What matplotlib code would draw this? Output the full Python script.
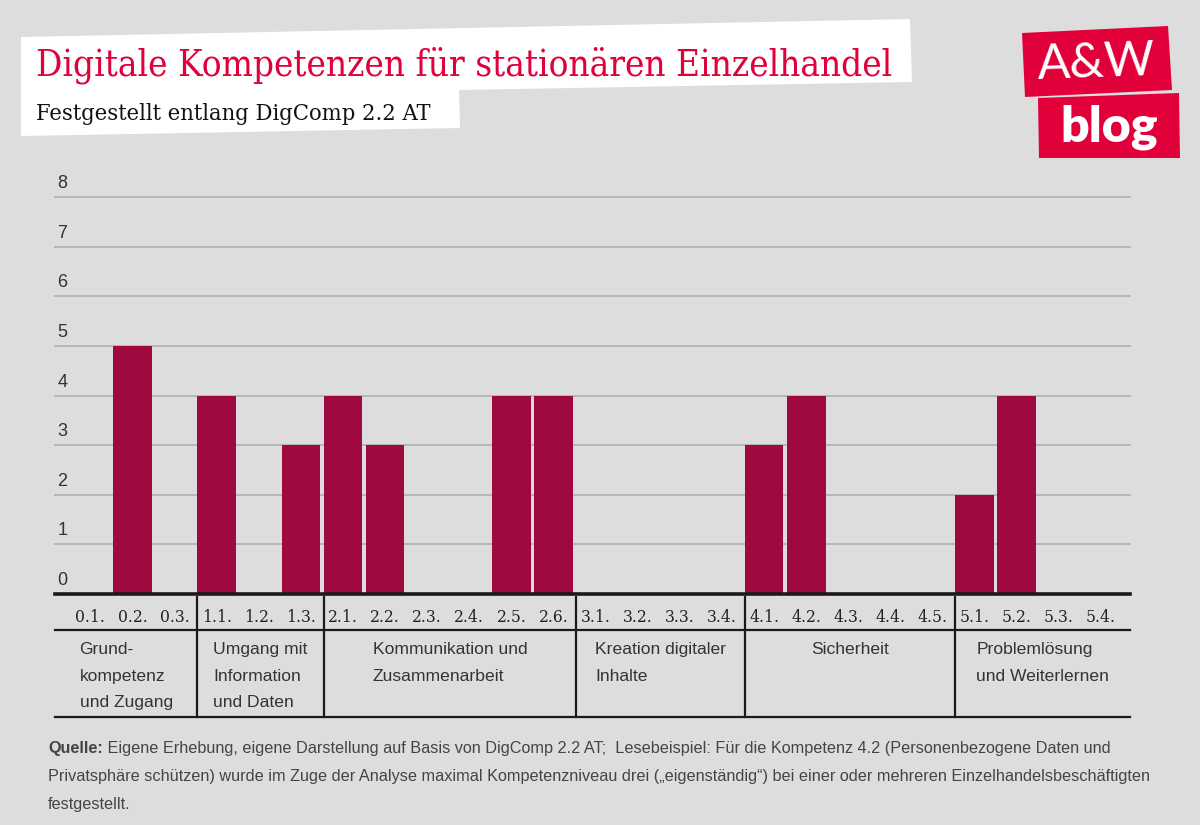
import matplotlib
matplotlib.use('Agg')
import matplotlib.pyplot as plt
from matplotlib import font_manager
from matplotlib.patches import Polygon
from matplotlib.transforms import blended_transform_factory

# data
codes = ['0.1.', '0.2.', '0.3.',
         '1.1.', '1.2.', '1.3.',
         '2.1.', '2.2.', '2.3.', '2.4.', '2.5.', '2.6.',
         '3.1.', '3.2.', '3.3.', '3.4.',
         '4.1.', '4.2.', '4.3.', '4.4.', '4.5.',
         '5.1.', '5.2.', '5.3.', '5.4.']
values = [0, 5, 0,
          4, 0, 3,
          4, 3, 0, 0, 4, 4,
          0, 0, 0, 0,
          3, 4, 0, 0, 0,
          2, 4, 0, 0]
groups = ['Grund-\nkompetenz\nund Zugang',
          'Umgang mit\nInformation\nund Daten',
          'Kommunikation und\nZusammenarbeit',
          'Kreation digitaler\nInhalte',
          'Sicherheit',
          'Problemlösung\nund Weiterlernen']
group_sizes = [3, 3, 6, 4, 5, 4]
yticks = [0, 1, 2, 3, 4, 5, 6, 7, 8]

title = 'Digitale Kompetenzen für stationären Einzelhandel'
subtitle = 'Festgestellt entlang DigComp 2.2 AT'
source_bold = 'Quelle:'
source_lines = [' Eigene Erhebung, eigene Darstellung auf Basis von DigComp 2.2 AT;  Lesebeispiel: Für die Kompetenz 4.2 (Personenbezogene Daten und',
                'Privatsphäre schützen) wurde im Zuge der Analyse maximal Kompetenzniveau drei („eigenständig“) bei einer oder mehreren Einzelhandelsbeschäftigten',
                'festgestellt.']

W, H = 1200, 825
BG = '#dddddd'
RED = '#e2003b'
BAR = '#a00840'

installed = {f.name for f in font_manager.fontManager.ttflist}
SANS = 'Liberation Sans Narrow' if 'Liberation Sans Narrow' in installed else 'Liberation Sans'
SERIF = 'DejaVu Serif'


def fy(y):
    return 1 - y / H


def fit(txt, width_px, renderer):
    w = txt.get_window_extent(renderer).width
    txt.set_fontsize(txt.get_fontsize() * width_px / w)


fig = plt.figure(figsize=(12, 8.25), dpi=100, facecolor=BG)
renderer = fig.canvas.get_renderer()

# header box
box = [(21, 37), (910, 19), (912, 82), (459, 90), (460, 128), (21, 136)]
fig.patches.append(Polygon([(x / W, fy(y)) for x, y in box], closed=True,
                           transform=fig.transFigure, facecolor='white', edgecolor='none'))
t = fig.text(36 / W, fy(76), title, color=RED, family=SERIF, fontstretch='condensed',
             fontsize=28, va='baseline', ha='left')
fit(t, 859, renderer)
st = fig.text(36 / W, fy(120), subtitle, color='#111111', family=SERIF, fontstretch='condensed',
              fontsize=18, va='baseline', ha='left')
fit(st, 394, renderer)

# logo
logo_top = [(1022, 33), (1168, 26), (1172, 90), (1025, 97)]
logo_bot = [(1038, 98), (1179, 93), (1180, 158), (1039, 158)]
for pts in (logo_top, logo_bot):
    fig.patches.append(Polygon([(x / W, fy(y)) for x, y in pts], closed=True,
                               transform=fig.transFigure, facecolor=RED, edgecolor='none'))
fig.text(1096 / W, fy(63), 'A&W', color='white', family='Lato', weight='normal',
         fontsize=35, ha='center', va='center', rotation=2)
fig.text(1109 / W, fy(127), 'blog', color='white', family='Lato', weight='heavy',
         fontsize=36, ha='center', va='center')

# plot area
ax = fig.add_axes([55 / W, fy(594), 1075 / W, 397 / H])
ax.set_facecolor('none')
xs = list(range(len(codes)))
ax.bar(xs, values, width=0.92, color=BAR, zorder=2)
xl, xr = -0.84, 24.69
ax.set_xlim(xl, xr)
ax.set_ylim(0, 8)
for v in yticks[1:]:
    ax.axhline(v, color='#b3b3b3', lw=1.3, zorder=1, clip_on=False)
ax.axhline(0, color='#1a1a1a', lw=2.6, zorder=3, clip_on=False)
for s in ax.spines.values():
    s.set_visible(False)
ax.set_xticks([])
ax.set_yticks([])

ytr = blended_transform_factory(ax.transAxes, ax.transData)
for v in yticks:
    ax.text(0.002, v + 0.27, str(v), transform=ytr, ha='left', va='center',
            family='Liberation Sans', fontsize=13, color='#333333')

# category table below the axis
tr = blended_transform_factory(ax.transData, fig.transFigure)
for i, c in enumerate(codes):
    ax.text(i, fy(618), c, transform=tr, ha='center', va='center',
            family=SERIF, fontstretch='condensed', fontsize=12.5, color='#222222')

for y in (630, 717):
    ax.plot([xl, xr], [fy(y), fy(y)], transform=tr, color='#1a1a1a', lw=1.6, clip_on=False)

starts = [sum(group_sizes[:k]) for k in range(len(group_sizes))]
edges = [xl] + [s - 0.46 for s in starts[1:]] + [xr]
for b in edges[1:-1]:
    ax.plot([b, b], [fy(597), fy(717)], transform=tr, color='#1a1a1a', lw=1.6, clip_on=False)

for k, g in enumerate(groups):
    cx = (edges[k] + edges[k + 1]) / 2
    ax.text(cx, fy(642), g, transform=tr, ha='center', va='top', multialignment='left',
            family=SANS, fontsize=12.6, color='#333333', linespacing=1.97)

# source note
fs = 10.5
lines = []
for k, line in enumerate(source_lines):
    lines.append(fig.text(48 / W, fy(749 + 27.5 * k), line, family=SANS, fontsize=fs,
                          color='#444444', ha='left', va='center'))
fit(lines[1], 1104, renderer)
fs = lines[1].get_fontsize()
for ln in lines:
    ln.set_fontsize(fs)
qb = fig.text(48 / W, fy(749), source_bold, family=SANS, fontsize=fs, weight='bold',
              color='#444444', ha='left', va='center')
wq = qb.get_window_extent(renderer).width
lines[0].set_x((48 + wq) / W)

fig.savefig('out.png', dpi=100, facecolor=BG)
